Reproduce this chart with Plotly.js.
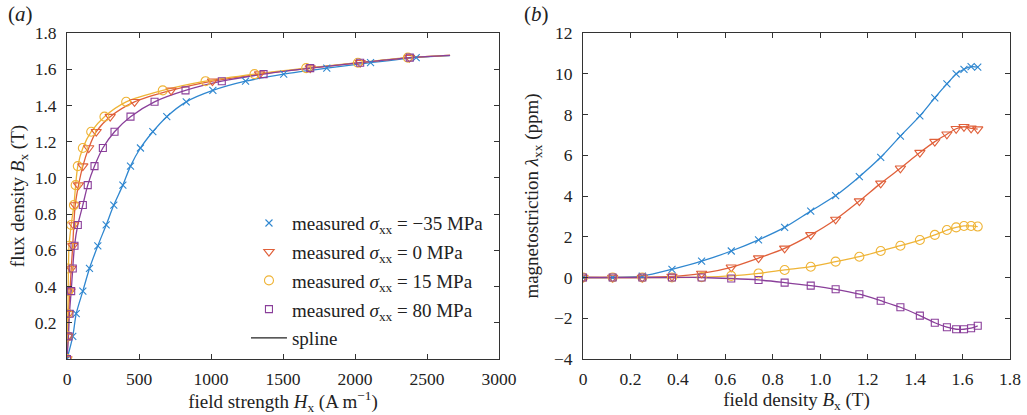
<!DOCTYPE html>
<html>
<head>
<meta charset="utf-8">
<script src="https://cdn.plot.ly/plotly-3.0.1.min.js"></script>
<style>html,body{margin:0;padding:0;background:#fff;}#chart{width:1027px;height:415px;}</style>
</head>
<body>
<div id="chart"></div>
<script>
// ---- data ----
// flux density levels (T), shared by both panels
const B_levels = [0, 0.125, 0.25, 0.375, 0.5, 0.625, 0.74, 0.85, 0.96, 1.065, 1.165, 1.255, 1.338, 1.42, 1.483, 1.534, 1.573, 1.606, 1.636, 1.664];
// panel (a): field strength H (A/m) at those B levels
const H_m35 = [0, 40, 64, 110, 156, 214, 272, 325, 388, 441, 510, 596, 693, 828, 1013, 1240, 1505, 1804, 2108, 2425];
const H_0   = [0, 6, 10, 21, 29, 40, 47, 57, 80, 110, 151, 203, 300, 469, 723, 1010, 1337, 1689, 2036, 2378];
const H_15  = [0, 5, 6, 8, 10, 14, 29, 48, 60, 75, 110, 168, 260, 411, 665, 962, 1302, 1661, 2020, 2367];
const H_80  = [0, 10, 17, 29, 40, 52, 75, 110, 144, 191, 249, 330, 441, 608, 823, 1075, 1365, 1689, 2036, 2380];
// spline end points of panel (a)
const splineEndH = [2660, 2660, 2660, 2660];
const splineEndB = [1.675, 1.677, 1.677, 1.677];
// panel (b): magnetostriction (ppm)
const L_m35 = [0, 0, 0.07, 0.4, 0.8, 1.3, 1.85, 2.46, 3.26, 4.02, 4.95, 5.9, 6.94, 7.93, 8.82, 9.5, 9.99, 10.22, 10.35, 10.33];
const L_0   = [0, 0, 0, 0.05, 0.2, 0.5, 0.95, 1.43, 2.09, 2.85, 3.75, 4.62, 5.36, 6.13, 6.67, 7.03, 7.3, 7.4, 7.32, 7.28];
const L_15  = [0, 0, 0, 0, 0.02, 0.08, 0.2, 0.37, 0.53, 0.78, 1.02, 1.3, 1.56, 1.84, 2.09, 2.33, 2.46, 2.53, 2.53, 2.5];
const L_80  = [0, 0, 0, 0, 0, -0.05, -0.12, -0.25, -0.4, -0.58, -0.82, -1.14, -1.46, -1.87, -2.22, -2.44, -2.54, -2.54, -2.49, -2.37];

const seriesNames = ['measured <i>σ</i><sub>xx</sub> = −35 MPa', 'measured <i>σ</i><sub>xx</sub> = 0 MPa',
                     'measured <i>σ</i><sub>xx</sub> = 15 MPa', 'measured <i>σ</i><sub>xx</sub> = 80 MPa'];
const colors = ['#2f87d0', '#e0603a', '#efb437', '#8a3f9a'];
const symbols = ['x-thin-open', 'triangle-down-open', 'circle-open', 'square-open'];
const sizes = [7, 9, 9, 7];

const Hs = [H_m35, H_0, H_15, H_80];
const Ls = [L_m35, L_0, L_15, L_80];

const traces = [];
// lines (a)
for (let i = 0; i < 4; i++) {
  traces.push({x: Hs[i].concat([splineEndH[i]]), y: B_levels.concat([splineEndB[i]]), xaxis: 'x', yaxis: 'y',
    mode: 'lines', line: {color: colors[i], width: 1.3, shape: 'spline', smoothing: 0.8}, showlegend: false, hoverinfo: 'skip'});
}
// lines (b)
for (let i = 0; i < 4; i++) {
  traces.push({x: B_levels, y: Ls[i], xaxis: 'x2', yaxis: 'y2',
    mode: 'lines', line: {color: colors[i], width: 1.3, shape: 'spline', smoothing: 0.8}, showlegend: false, hoverinfo: 'skip'});
}
// markers (a) with legend
for (let i = 0; i < 4; i++) {
  traces.push({x: Hs[i], y: B_levels, xaxis: 'x', yaxis: 'y', name: seriesNames[i], legendgroup: 'g' + i,
    mode: 'markers', marker: {symbol: symbols[i], size: sizes[i], color: colors[i], line: {color: colors[i], width: 1.1}}});
}
// markers (b)
for (let i = 0; i < 4; i++) {
  traces.push({x: B_levels, y: Ls[i], xaxis: 'x2', yaxis: 'y2', showlegend: false,
    mode: 'markers', marker: {symbol: symbols[i], size: sizes[i], color: colors[i], line: {color: colors[i], width: 1.1}}});
}
// spline legend entry
traces.push({x: [null], y: [null], xaxis: 'x', yaxis: 'y', name: 'spline', legendgroup: 'g4',
  mode: 'lines', line: {color: '#222', width: 1.3}});

const serif = '"Liberation Serif", "Times New Roman", serif';
const FS = 17.5;
const TS = 19;
const axisCommon = {
  showline: true, mirror: 'ticks', linecolor: '#333', linewidth: 1,
  ticks: 'inside', ticklen: 5, tickcolor: '#333', tickwidth: 1,
  showgrid: false, zeroline: false,
  tickfont: {family: serif, size: FS, color: '#222'}
};

const layout = {
  width: 1027, height: 415,
  margin: {l: 0, r: 0, t: 33, b: 56},
  paper_bgcolor: '#fff', plot_bgcolor: '#fff',
  font: {family: serif, size: FS, color: '#222'},
  showlegend: true,
  legend: {x: 0.2395, xanchor: 'left', y: 0.475, yanchor: 'top', bgcolor: 'rgba(0,0,0,0)',
    font: {family: serif, size: 19, color: '#222'}, traceorder: 'grouped', tracegroupgap: 1, itemwidth: 36},
  xaxis: Object.assign({}, axisCommon, {domain: [67/1027, 499/1027], range: [0, 3000],
    tickvals: [0, 500, 1000, 1500, 2000, 2500, 3000], ticktext: ['0', '500', '1000', '1500', '2000', '2500', '3000'],
    ticklabelstandoff: 4,
    title: {text: 'field strength <i>H</i><sub>x</sub> (A m<sup>−1</sup>)', font: {family: serif, size: TS, color: '#222'}, standoff: 3}}),
  yaxis: Object.assign({}, axisCommon, {domain: [0, 1], range: [0, 1.8], anchor: 'x',
    tickvals: [0.2, 0.4, 0.6, 0.8, 1.0, 1.2, 1.4, 1.6, 1.8], ticktext: ['0.2', '0.4', '0.6', '0.8', '1.0', '1.2', '1.4', '1.6', '1.8'],
    ticklabelstandoff: 6,
    title: {text: 'flux density <i>B</i><sub>x</sub> (T)', font: {family: serif, size: TS, color: '#222'}, standoff: 4}}),
  xaxis2: Object.assign({}, axisCommon, {domain: [583/1027, 1010/1027], range: [0, 1.8], anchor: 'y2',
    tickvals: [0, 0.2, 0.4, 0.6, 0.8, 1.0, 1.2, 1.4, 1.6, 1.8], ticktext: ['0', '0.2', '0.4', '0.6', '0.8', '1.0', '1.2', '1.4', '1.6', '1.8'],
    ticklabelstandoff: 4,
    title: {text: 'field density <i>B</i><sub>x</sub> (T)', font: {family: serif, size: TS, color: '#222'}, standoff: 3}}),
  yaxis2: Object.assign({}, axisCommon, {domain: [0, 1], range: [-4, 12], anchor: 'x2',
    tickvals: [-4, -2, 0, 2, 4, 6, 8, 10, 12], ticktext: ['−4', '−2', '0', '2', '4', '6', '8', '10', '12'],
    ticklabelstandoff: 6,
    title: {text: 'magnetostriction <i>λ</i><sub>xx</sub> (ppm)', font: {family: serif, size: TS, color: '#222'}, standoff: 10}}),
  annotations: [
    {text: '(<i>a</i>)', xref: 'paper', yref: 'paper', x: 20/1027, y: 1 + (33-14)/326, showarrow: false,
      font: {family: serif, size: 21, color: '#222'}, xanchor: 'center', yanchor: 'middle'},
    {text: '(<i>b</i>)', xref: 'paper', yref: 'paper', x: 536/1027, y: 1 + (33-14)/326, showarrow: false,
      font: {family: serif, size: 21, color: '#222'}, xanchor: 'center', yanchor: 'middle'}
  ]
};

Plotly.newPlot('chart', traces, layout, {displayModeBar: false, staticPlot: true});
</script>
</body>
</html>
